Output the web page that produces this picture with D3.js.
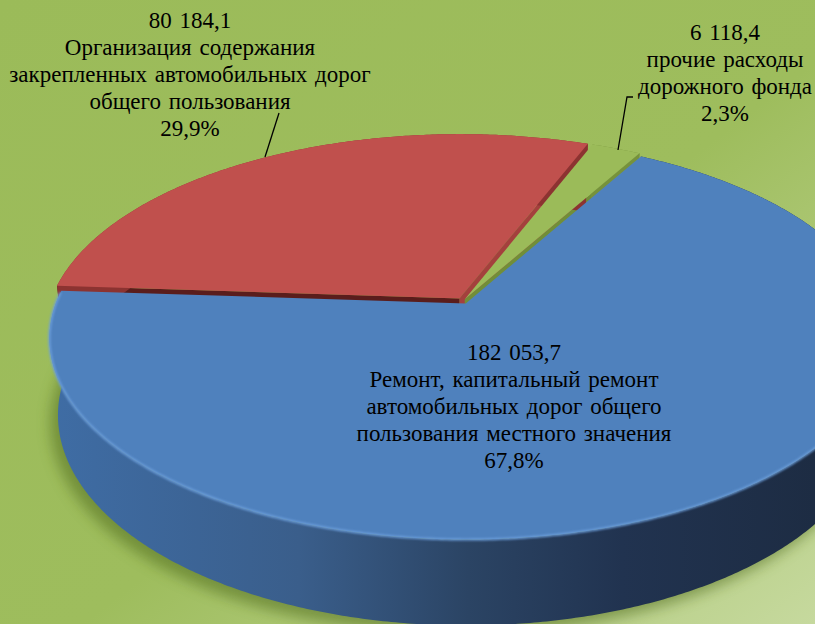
<!DOCTYPE html>
<html><head><meta charset="utf-8">
<script src="https://cdn.jsdelivr.net/npm/d3@7"></script>
<style>html,body{margin:0;padding:0;background:#9bbb59;}svg{display:block;}</style>
</head><body>
<svg id="chart" width="815" height="624"></svg>
<script>
// ---- data ----
const categories = [
  "Организация содержания закрепленных автомобильных дорог общего пользования",
  "прочие расходы дорожного фонда",
  "Ремонт, капитальный ремонт автомобильных дорог общего пользования местного значения"
];
const values = [80184.1, 6118.4, 182053.7];
const labelLines = [
  ["Организация содержания", "закрепленных автомобильных дорог", "общего пользования"],
  ["прочие расходы", "дорожного фонда"],
  ["Ремонт, капитальный ремонт", "автомобильных дорог общего", "пользования местного значения"]
];
const topColors = ["#c0504d", "#9bbb59", "#4f81bd"];

// ---- layout / styles ----
const W = 815, H = 624;
const cx0 = 463, cy0 = 301;
const A = 409, sinA = 0.474, cosA = 0.880, Dcam = 5.03, depth = 0.215;
const explode = [0.016, 0.01, 0.014];
const wallColors = ["#8c3331", "#76923c", "url(#blueSide)"];
const radialColors = {start: ["#5a1d1c", "#6c8736", "#2c4a70"], end: ["#a4403d", "#718e38", "#2c4a70"]};
const labelPos = [[190, 28], [725, 40], [514, 360]];
const lineH = 27;

const locale = d3.formatLocale({decimal: ",", thousands: "\u00a0", grouping: [3], currency: ["", ""]});
const fmtVal = locale.format(",.1f");
const fmtPct = locale.format(".1%");

const svg = d3.select("#chart");
const defs = svg.append("defs");
const bg = defs.append("linearGradient").attr("id", "bg").attr("x1", 0).attr("y1", 0).attr("x2", 1).attr("y2", 1);
bg.append("stop").attr("offset", 0).attr("stop-color", "#9bbb59");
bg.append("stop").attr("offset", 0.55).attr("stop-color", "#9ebd5d");
bg.append("stop").attr("offset", 1).attr("stop-color", "#c6d99e");
const bs = defs.append("linearGradient").attr("id", "blueSide").attr("gradientUnits", "userSpaceOnUse")
  .attr("x1", 45).attr("y1", 0).attr("x2", 815).attr("y2", 0);
[[0, "#3f6da5"], [0.33, "#3a5e8b"], [0.55, "#2b4464"], [0.75, "#213350"], [1, "#1d2c43"]]
  .forEach(([o, c]) => bs.append("stop").attr("offset", o).attr("stop-color", c));
defs.append("filter").attr("id", "blur8").attr("x", "-20%").attr("y", "-20%").attr("width", "140%").attr("height", "140%")
  .append("feGaussianBlur").attr("stdDeviation", 7);
defs.append("filter").attr("id", "blur1")
  .append("feGaussianBlur").attr("stdDeviation", 0.8);

svg.append("rect").attr("width", W).attr("height", H).attr("fill", "url(#bg)");

function proj(u, v, w) {
  const Z = 1 - (v * cosA + w * sinA) / Dcam;
  return [cx0 + A * u / Z, cy0 + A * (v * sinA - w * cosA) / Z];
}
const line = d3.line();
const startDeg = 273.8;
const pie = d3.pie().sort(null).value(d => d)
  .startAngle(startDeg * Math.PI / 180).endAngle(startDeg * Math.PI / 180 + 2 * Math.PI);
const arcs = pie(values).map((a, i) => {
  const a0 = a.startAngle - Math.PI / 2, a1 = a.endAngle - Math.PI / 2, mid = (a0 + a1) / 2;
  return {i, a0, a1, ou: explode[i] * Math.cos(mid), ov: explode[i] * Math.sin(mid)};
});
function arcPts(s, from, to, w) {
  const n = Math.max(2, Math.ceil(Math.abs(to - from) / (Math.PI / 360)));
  const pts = [];
  for (let k = 0; k <= n; k++) {
    const t = from + (to - from) * k / n;
    pts.push(proj(s.ou + Math.cos(t), s.ov + Math.sin(t), w));
  }
  return pts;
}

// shadow
const shadowPts = arcPts({ou: 0.0, ov: 0.02}, 0, 2 * Math.PI, -depth);
svg.append("path").attr("d", line(shadowPts.map(p => [p[0] - 4, p[1] + 6])) + "Z")
  .attr("fill", "#4f6a1f").attr("opacity", 0.55).attr("filter", "url(#blur8)");

const g = svg.append("g");
// radial walls (front-facing only)
arcs.forEach(s => {
  [["start", s.a0, s.a0 - Math.PI / 2], ["end", s.a1, s.a1 + Math.PI / 2]].forEach(([key, ang, nrm]) => {
    if (Math.sin(nrm) <= 0) return;
    const pts = [proj(s.ou, s.ov, 0), proj(s.ou + Math.cos(ang), s.ov + Math.sin(ang), 0),
      proj(s.ou + Math.cos(ang), s.ov + Math.sin(ang), -depth), proj(s.ou, s.ov, -depth)];
    g.append("path").attr("d", line(pts) + "Z").attr("fill", radialColors[key][s.i]);
  });
});
// outer walls
arcs.forEach(s => {
  const pts = arcPts(s, s.a0, s.a1, 0).concat(arcPts(s, s.a1, s.a0, -depth));
  g.append("path").attr("d", line(pts) + "Z").attr("fill", wallColors[s.i]);
});
// tops
arcs.forEach(s => {
  const pts = [proj(s.ou, s.ov, 0)].concat(arcPts(s, s.a0, s.a1, 0));
  g.append("path").attr("d", line(pts) + "Z").attr("fill", topColors[s.i]);
});
// rim highlight on blue front edge
const sb = arcs[2];
g.append("path").attr("d", line(arcPts(sb, Math.max(sb.a0, 2 * Math.PI - 0.15), sb.a1 - 0.01, 0)))
  .attr("fill", "none").attr("stroke", "#6c9edb").attr("stroke-width", 2.2).attr("filter", "url(#blur1)");

// labels
const total = d3.sum(values);
const lab = svg.append("g");
values.forEach((v, i) => {
  const lines = [fmtVal(v)].concat(labelLines[i], [fmtPct(v / total)]);
  const t = lab.append("text").attr("x", labelPos[i][0]).attr("y", labelPos[i][1])
    .style("font-family", '"Liberation Serif"').style("font-size", "23px")
    .style("word-spacing", "2px").attr("fill", "#000").attr("text-anchor", "middle");
  lines.forEach((l, k) => t.append("tspan").attr("x", labelPos[i][0]).attr("dy", k === 0 ? 0 : lineH).text(l));
});
// leader lines
svg.append("path").attr("d", "M265,157L279,113").attr("stroke", "#000").attr("stroke-width", 1.3).attr("fill", "none");
svg.append("path").attr("d", "M618,150L627,97L633,97").attr("stroke", "#000").attr("stroke-width", 1.3).attr("fill", "none");
</script>
</body></html>
